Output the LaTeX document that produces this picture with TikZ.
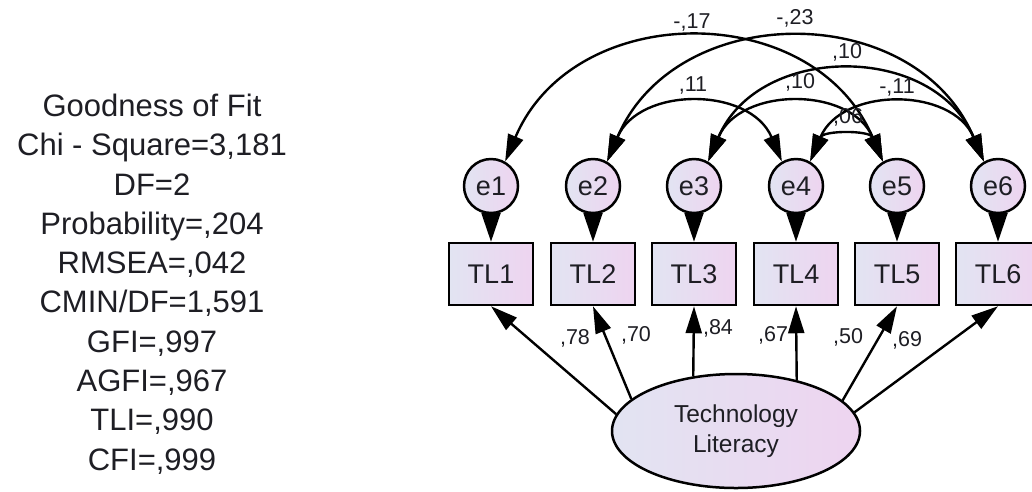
\documentclass[tikz,border=0pt]{standalone}
\usepackage{fontspec}
\setmainfont{Liberation Sans}
\usetikzlibrary{arrows.meta,shapes.geometric}
\definecolor{fillL}{RGB}{226,228,242}
\definecolor{fillR}{RGB}{238,212,240}
\definecolor{txt}{RGB}{30,30,36}
\begin{document}
\begin{tikzpicture}[x=1pt,y=-1pt,
  obsbox/.style={draw=black,line width=2.5pt,left color=fillL,right color=fillR,
    minimum width=84pt,minimum height=62pt,inner sep=0pt,
    font=\fontsize{27}{27}\selectfont,text=txt},
  errnode/.style={circle,draw=black,line width=2.5pt,left color=fillL,right color=fillR,
    minimum size=54pt,inner sep=0pt,font=\fontsize{27}{27}\selectfont,text=txt},
  latnode/.style={ellipse,draw=black,line width=2.5pt,left color=fillL,right color=fillR,
    minimum width=248pt,minimum height=114pt,inner sep=0pt,align=center,
    font=\fontsize{24.5}{30}\selectfont,text=txt},
  pathar/.style={line width=2.4pt,-{Triangle[length=27pt,width=16pt]}},
  errar/.style={line width=2.4pt,-{Triangle[length=29pt,width=19pt]}},
  covar/.style={line width=2.4pt,{Triangle[length=27pt,width=16pt]}-{Triangle[length=27pt,width=16pt]},
    out=67,in=113,looseness=1.2},
  lbl/.style={font=\fontsize{21.5}{22}\selectfont,text=txt,inner sep=0pt},
  fit/.style={font=\fontsize{31}{39.3}\selectfont,text=txt,align=center,inner sep=0pt}
]
\useasboundingbox (0,0) rectangle (1032,491);

% goodness of fit text
\node[fit] (gof) at (152,284) {Goodness of Fit\\Chi - Square=3,181\\DF=2\\Probability=,204\\RMSEA=,042\\CMIN/DF=1,591\\GFI=,997\\AGFI=,967\\TLI=,990\\CFI=,999};

% observed variables
\foreach \i/\x in {1/491,2/593,3/694,4/796,5/897,6/998}{
  \node[obsbox] (TL\i) at (\x,274) {TL\i};
  \node[errnode] (e\i) at (\x,186) {e\i};
  \draw[errar] (e\i) -- (TL\i);
}

% latent
\node[latnode] (lat) at (736,431) {Technology\\Literacy};

% loadings
\draw[pathar] (lat.172) -- (TL1.south);
\draw[pathar] (lat.163) -- (TL2.south);
\draw[pathar] (lat.128) -- (TL3.south);
\draw[pathar] (lat.40) -- (TL4.south);
\draw[pathar] (lat.16) -- (TL5.south);
\draw[pathar] (lat.9) -- (TL6.south);

\node[lbl] (l1) at (575,338) {,78};
\node[lbl] (l2) at (636,335) {,70};
\node[lbl] (l3) at (718,328) {,84};
\node[lbl] (l4) at (773,335) {,67};
\node[lbl] (l5) at (848,337) {,50};
\node[lbl] (l6) at (907,340) {,69};

% covariances
\draw[covar] (e1.60) to (e5.120);
\draw[covar] (e2.60) to (e6.120);
\draw[covar] (e3.60) to (e6.120);
\draw[covar] (e2.60) to (e4.120);
\draw[covar] (e3.60) to (e5.120);
\draw[covar] (e4.60) to (e6.120);
\draw[covar] (e4.60) to (e5.120);

\node[lbl] (c15) at (692,22) {-,17};
\node[lbl] (c26) at (795,18) {-,23};
\node[lbl] (c36) at (847,52) {,10};
\node[lbl] (c24) at (693,85) {,11};
\node[lbl] (c35) at (800,82) {,10};
\node[lbl] (c46) at (897,87) {-,11};
\node[lbl] (c45) at (848,117) {,06};
\end{tikzpicture}
\end{document}
